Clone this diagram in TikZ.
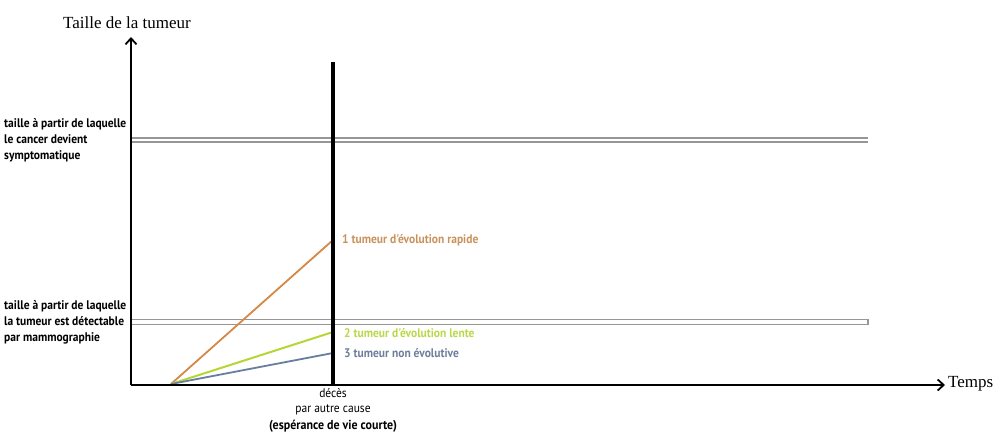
\documentclass[tikz,border=0pt]{standalone}
\usepackage{fontspec}
\setmainfont{Liberation Serif}
\newfontfamily\lbl[FakeStretch=0.92]{PT Sans}
\usetikzlibrary{arrows.meta}
\definecolor{rapid}{RGB}{212,137,74}
\definecolor{slow}{RGB}{182,214,52}
\definecolor{none}{RGB}{104,126,160}
\definecolor{rapidtxt}{RGB}{200,146,92}
\definecolor{slowtxt}{RGB}{185,216,74}
\definecolor{nonetxt}{RGB}{110,126,154}
\definecolor{thr}{RGB}{150,150,150}
\tikzset{
  axis/.style={line width=1.8pt,-{Straight Barb[length=6pt,width=11pt,line width=1.8pt]}},
  lbltext/.style={font=\lbl\bfseries\fontsize{12.5}{16}\selectfont,align=left,anchor=north west,inner sep=0pt},
  curvelbl/.style={font=\lbl\bfseries\fontsize{12.5}{14}\selectfont,anchor=west,inner sep=0pt},
  axislbl/.style={font=\fontsize{17}{20}\selectfont,inner sep=0pt},
  thrline/.style={draw=thr,line width=1.3pt}
}
\begin{document}
\begin{tikzpicture}[x=1pt,y=-1pt]
\useasboundingbox (0,0) rectangle (1000,433);
\coordinate (O) at (131,385);
\coordinate (Ytop) at (131,37);
\coordinate (Xend) at (945,385);
\coordinate (start) at (171,384);
\coordinate (dtop) at (333,62);
\coordinate (dbot) at (333,385);
\coordinate (r) at (333,240);
\coordinate (s) at (333,332);
\coordinate (n) at (333,353);
\coordinate (h1a) at (131,140);
\coordinate (h1b) at (868,140);
\coordinate (h2a) at (131,322);
\coordinate (h2b) at (868,322);
% thresholds
\draw[thrline] ([yshift=-2pt]h1a) -- ([yshift=-2pt]h1b);
\draw[thrline] ([yshift=2pt]h1a) -- ([yshift=2pt]h1b);
\draw[thrline] ([yshift=-2.5pt]h2a) -- ([yshift=-2.5pt]h2b) -- ([yshift=2.5pt]h2b) -- ([yshift=2.5pt]h2a);
% curves
\draw[rapid,line width=1.8pt] (start) -- (r);
\draw[slow,line width=2pt] (start) -- (s);
\draw[none,line width=1.8pt] (start) -- (n);
% axes
\draw[axis] (O) -- (Ytop);
\draw[axis] (O) -- (Xend);
% death line
\draw[line width=4.5pt] (dtop) -- (dbot);
% labels
\node[axislbl,anchor=south west] (ylbl) at (63,29) {Taille de la tumeur};
\node[axislbl,anchor=west] (xlbl) at (948,384) {Temps};
\node[lbltext] (t1) at (4,118) {taille à partir de laquelle\\le cancer devient\\symptomatique};
\node[lbltext] (t2) at (4,300) {taille à partir de laquelle\\la tumeur est détectable\\par mammographie};
\node[curvelbl,text=rapidtxt] (l1) at (342,240) {1 tumeur d'évolution rapide};
\node[curvelbl,text=slowtxt] (l2) at (344,333) {2 tumeur d'évolution lente};
\node[curvelbl,text=nonetxt] (l3) at (344,353) {3 tumeur non évolutive};
\node[font=\lbl\fontsize{12.5}{15}\selectfont,align=center,anchor=north,inner sep=0pt] (d1) at (333,388) {décès\\par autre cause};
\node[font=\lbl\bfseries\fontsize{13}{15}\selectfont,anchor=north,inner sep=0pt] (d2) at (333,420) {(espérance de vie courte)};
\end{tikzpicture}
\end{document}
